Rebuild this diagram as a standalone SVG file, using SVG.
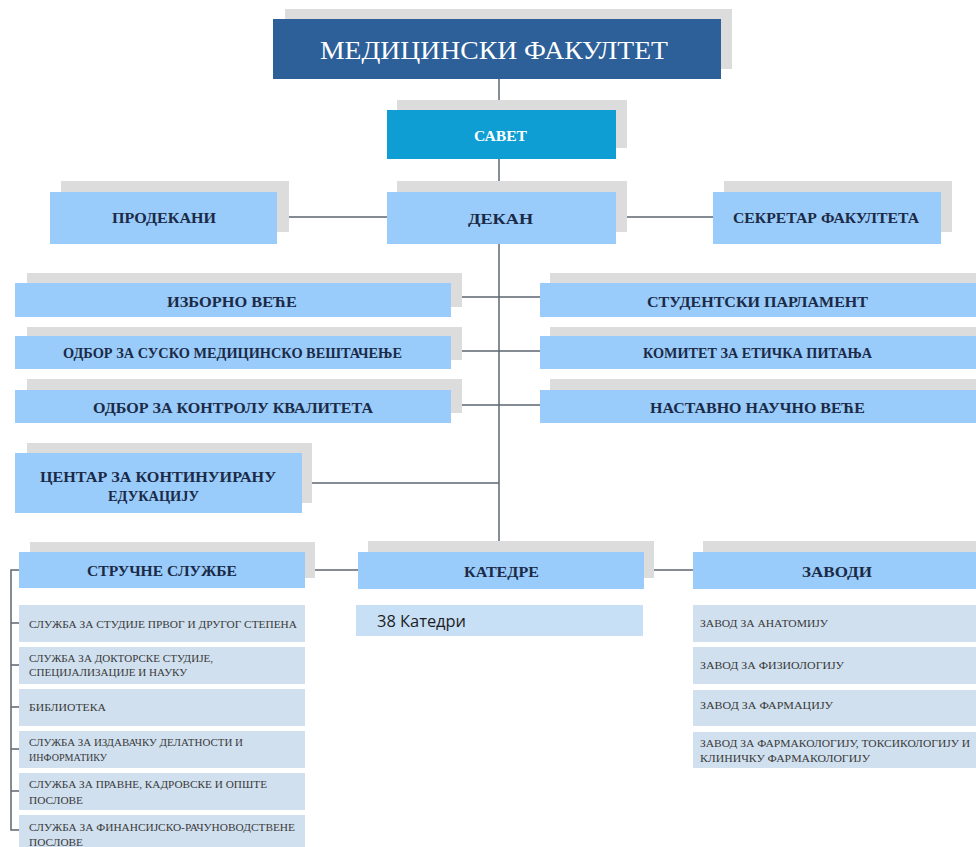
<svg xmlns="http://www.w3.org/2000/svg" width="976" height="847" viewBox="0 0 976 847">
<style>
.sh{fill:#DCDCDC}
.nd{fill:#99CCFA}
.it{fill:#D0E0EF}
.t{font-family:"Liberation Serif","DejaVu Serif",serif;font-weight:bold;fill:#1B2A47;font-size:15px}
.s{font-family:"Liberation Serif","DejaVu Serif",serif;font-size:10.5px;fill:#3A3A3A}
.ln{stroke:#5E6670;stroke-width:1.5;fill:none}
</style>
<rect width="976" height="847" fill="#FFFFFF"/>
<g id="connectors">
<path class="ln" d="M499,79 V552"/>
<path class="ln" d="M277,217 H387 M616,217 H713"/>
<path class="ln" d="M451,297 H540 M451,351 H540 M451,405 H540"/>
<path class="ln" d="M302,483 H499"/>
<path class="ln" d="M305,570 H358 M644,570 H693"/>
<path class="ln" d="M19,570 H11 V830 H19 M11,623 H19 M11,665 H19 M11,707 H19 M11,749 H19 M11,791 H19"/>
</g>
<g id="n-fakultet">
<rect class="sh" x="285" y="9" width="447" height="60"/>
<rect x="273" y="19" width="448" height="60" fill="#2D5F98"/>
<text x="320" y="59" font-family="Liberation Serif, DejaVu Serif, serif" font-size="26" fill="#FFFFFF" textLength="348" lengthAdjust="spacingAndGlyphs">МЕДИЦИНСКИ ФАКУЛТЕТ</text>
</g>
<g id="n-savet">
<rect class="sh" x="397" y="100" width="230" height="48"/>
<rect x="387" y="110" width="229" height="49" fill="#0E9ED4"/>
<text x="474" y="141" font-family="Liberation Serif, DejaVu Serif, serif" font-size="14" font-weight="bold" fill="#FFFFFF" textLength="53" lengthAdjust="spacingAndGlyphs">САВЕТ</text>
</g>
<g id="n-prodekani">
<rect class="sh" x="61" y="181" width="228" height="51"/>
<rect class="nd" x="50" y="192" width="227" height="52"/>
<text class="t" x="112" y="223" textLength="104" lengthAdjust="spacingAndGlyphs">ПРОДЕКАНИ</text>
</g>
<g id="n-dekan">
<rect class="sh" x="397" y="181" width="230" height="51"/>
<rect class="nd" x="387" y="192" width="229" height="52"/>
<text class="t" x="468" y="224" font-size="17" textLength="65" lengthAdjust="spacingAndGlyphs">ДЕКАН</text>
</g>
<g id="n-sekretar">
<rect class="sh" x="724" y="181" width="228" height="51"/>
<rect class="nd" x="713" y="192" width="228" height="52"/>
<text class="t" x="733" y="223" textLength="186" lengthAdjust="spacingAndGlyphs">СЕКРЕТАР ФАКУЛТЕТА</text>
</g>
<g id="n-izborno">
<rect class="sh" x="27" y="273" width="435" height="34"/>
<rect class="nd" x="15" y="283" width="436" height="34"/>
<text class="t" x="167" y="307" textLength="130" lengthAdjust="spacingAndGlyphs">ИЗБОРНО ВЕЋЕ</text>
</g>
<g id="n-odbor-susko">
<rect class="sh" x="27" y="327" width="435" height="33"/>
<rect class="nd" x="15" y="336" width="436" height="33"/>
<text class="t" x="63" y="358" font-size="14" textLength="339" lengthAdjust="spacingAndGlyphs">ОДБОР ЗА СУСКО МЕДИЦИНСКО ВЕШТАЧЕЊЕ</text>
</g>
<g id="n-odbor-kvalitet">
<rect class="sh" x="27" y="379" width="435" height="34"/>
<rect class="nd" x="15" y="390" width="436" height="33"/>
<text class="t" x="93" y="413" textLength="280" lengthAdjust="spacingAndGlyphs">ОДБОР ЗА КОНТРОЛУ КВАЛИТЕТА</text>
</g>
<g id="n-studentski">
<rect class="sh" x="550" y="273" width="426" height="34"/>
<rect class="nd" x="540" y="283" width="436" height="34"/>
<text class="t" x="647" y="307" textLength="221" lengthAdjust="spacingAndGlyphs">СТУДЕНТСКИ ПАРЛАМЕНТ</text>
</g>
<g id="n-komitet">
<rect class="sh" x="550" y="327" width="426" height="33"/>
<rect class="nd" x="540" y="336" width="436" height="33"/>
<text class="t" x="643" y="358" font-size="14" textLength="229" lengthAdjust="spacingAndGlyphs">КОМИТЕТ ЗА ЕТИЧКА ПИТАЊА</text>
</g>
<g id="n-nastavno">
<rect class="sh" x="550" y="379" width="426" height="34"/>
<rect class="nd" x="540" y="390" width="436" height="33"/>
<text class="t" x="650" y="413" textLength="215" lengthAdjust="spacingAndGlyphs">НАСТАВНО НАУЧНО ВЕЋЕ</text>
</g>
<g id="n-centar">
<rect class="sh" x="27" y="443" width="285" height="60"/>
<rect class="nd" x="15" y="453" width="287" height="60"/>
<text class="t" x="40" y="482" textLength="236" lengthAdjust="spacingAndGlyphs">ЦЕНТАР ЗА КОНТИНУИРАНУ</text>
<text class="t" x="108" y="501" textLength="91" lengthAdjust="spacingAndGlyphs">ЕДУКАЦИЈУ</text>
</g>
<g id="n-strucne">
<rect class="sh" x="30" y="542" width="285" height="36"/>
<rect class="nd" x="19" y="552" width="286" height="36"/>
<text class="t" x="87" y="576" textLength="150" lengthAdjust="spacingAndGlyphs">СТРУЧНЕ СЛУЖБЕ</text>
</g>
<g id="n-katedre">
<rect class="sh" x="368" y="541" width="286" height="37"/>
<rect class="nd" x="358" y="552" width="286" height="37"/>
<text class="t" x="464" y="577" textLength="75" lengthAdjust="spacingAndGlyphs">КАТЕДРЕ</text>
</g>
<g id="n-zavodi">
<rect class="sh" x="703" y="541" width="273" height="37"/>
<rect class="nd" x="693" y="552" width="283" height="37"/>
<text class="t" x="802" y="577" textLength="70" lengthAdjust="spacingAndGlyphs">ЗАВОДИ</text>
</g>
<g id="n-38katedri">
<rect x="356" y="605" width="287" height="31" fill="#C8E0F6"/>
<text x="377" y="627" font-family="Open Sans, Liberation Sans, sans-serif" font-size="15.5" fill="#1E1E1E" textLength="89" lengthAdjust="spacingAndGlyphs">38 Катедри</text>
</g>
<g id="n-sl1">
<rect class="it" x="19" y="605" width="286" height="37"/>
<text class="s" x="29" y="628" textLength="268" lengthAdjust="spacingAndGlyphs">СЛУЖБА ЗА СТУДИЈЕ ПРВОГ И ДРУГОГ СТЕПЕНА</text>
</g>
<g id="n-sl2">
<rect class="it" x="19" y="647" width="286" height="37"/>
<text class="s" x="29" y="662" textLength="184" lengthAdjust="spacingAndGlyphs">СЛУЖБА ЗА ДОКТОРСКЕ СТУДИЈЕ,</text>
<text class="s" x="29" y="676" textLength="158" lengthAdjust="spacingAndGlyphs">СПЕЦИЈАЛИЗАЦИЈЕ И НАУКУ</text>
</g>
<g id="n-sl3">
<rect class="it" x="19" y="689" width="286" height="37"/>
<text class="s" x="29" y="711" textLength="77" lengthAdjust="spacingAndGlyphs">БИБЛИОТЕКА</text>
</g>
<g id="n-sl4">
<rect class="it" x="19" y="731" width="286" height="37"/>
<text class="s" x="29" y="746" textLength="214" lengthAdjust="spacingAndGlyphs">СЛУЖБА ЗА ИЗДАВАЧКУ ДЕЛАТНОСТИ И</text>
<text class="s" x="29" y="761" textLength="78" lengthAdjust="spacingAndGlyphs">ИНФОРМАТИКУ</text>
</g>
<g id="n-sl5">
<rect class="it" x="19" y="773" width="286" height="37"/>
<text class="s" x="29" y="788" textLength="238" lengthAdjust="spacingAndGlyphs">СЛУЖБА ЗА ПРАВНЕ, КАДРОВСКЕ И ОПШТЕ</text>
<text class="s" x="29" y="804" textLength="54" lengthAdjust="spacingAndGlyphs">ПОСЛОВЕ</text>
</g>
<g id="n-sl6">
<rect class="it" x="19" y="815" width="286" height="37"/>
<text class="s" x="29" y="831" textLength="266" lengthAdjust="spacingAndGlyphs">СЛУЖБА ЗА ФИНАНСИЈСКО-РАЧУНОВОДСТВЕНЕ</text>
<text class="s" x="29" y="846" textLength="54" lengthAdjust="spacingAndGlyphs">ПОСЛОВЕ</text>
</g>
<g id="n-zv1">
<rect class="it" x="693" y="605" width="283" height="37"/>
<text class="s" x="700" y="627" textLength="128" lengthAdjust="spacingAndGlyphs">ЗАВОД ЗА АНАТОМИЈУ</text>
</g>
<g id="n-zv2">
<rect class="it" x="693" y="647" width="283" height="37"/>
<text class="s" x="700" y="669" textLength="144" lengthAdjust="spacingAndGlyphs">ЗАВОД ЗА ФИЗИОЛОГИЈУ</text>
</g>
<g id="n-zv3">
<rect class="it" x="693" y="690" width="283" height="36"/>
<text class="s" x="700" y="709" textLength="133" lengthAdjust="spacingAndGlyphs">ЗАВОД ЗА ФАРМАЦИЈУ</text>
</g>
<g id="n-zv4">
<rect class="it" x="693" y="732" width="283" height="36"/>
<text class="s" x="700" y="747" textLength="270" lengthAdjust="spacingAndGlyphs">ЗАВОД ЗА ФАРМАКОЛОГИЈУ, ТОКСИКОЛОГИЈУ И</text>
<text class="s" x="700" y="762" textLength="170" lengthAdjust="spacingAndGlyphs">КЛИНИЧКУ ФАРМАКОЛОГИЈУ</text>
</g>
</svg>
